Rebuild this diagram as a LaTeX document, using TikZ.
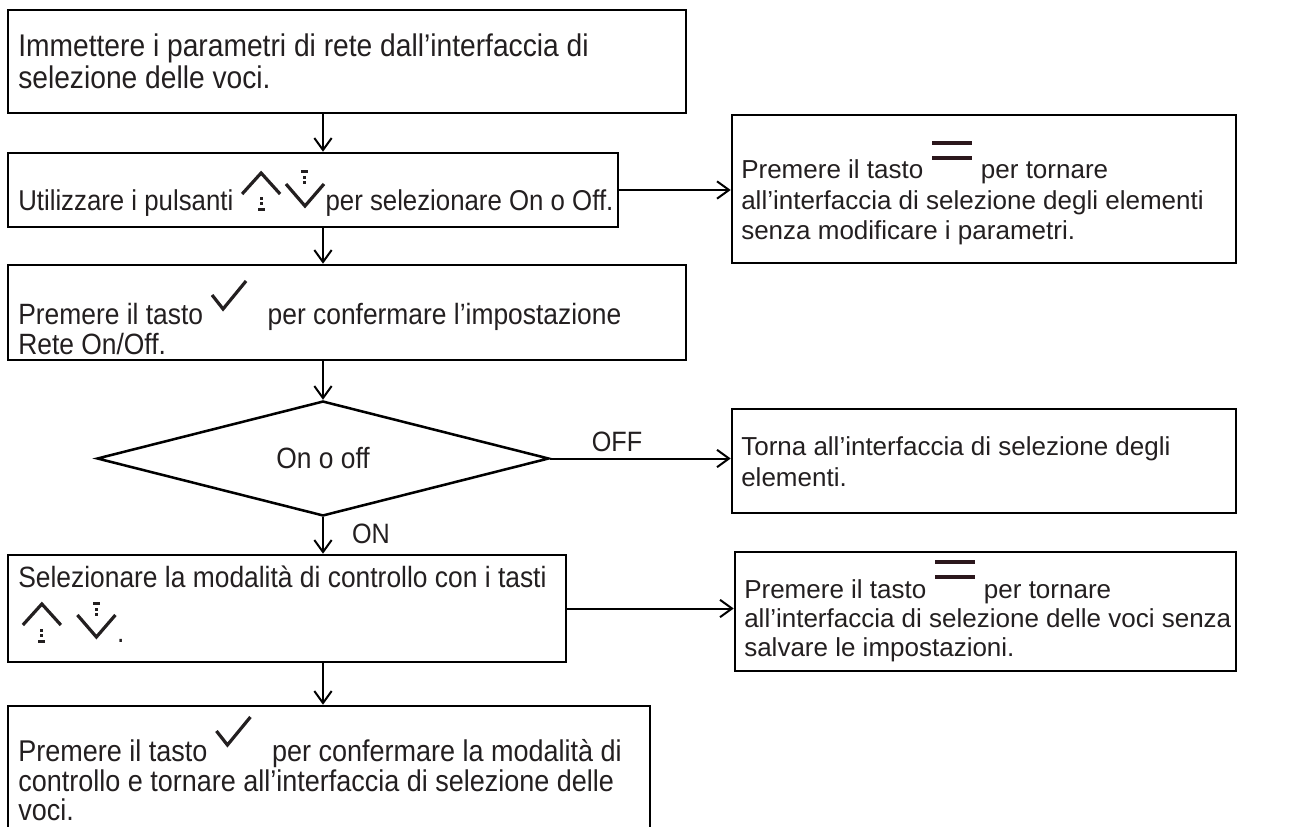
\documentclass[tikz,border=0pt]{standalone}
\usepackage{fontspec}
\setmainfont{Liberation Sans}
\newfontfamily\narrowfont[FakeStretch=0.9]{Liberation Sans}
\usetikzlibrary{arrows.meta,shapes.geometric}
\definecolor{txt}{HTML}{231F20}
\definecolor{menucol}{HTML}{2B171C}
\newcommand\upkey{\tikz[baseline=0pt,x=0.75pt,y=-0.75pt]{%
  \draw[line width=2.4pt,txt] (0,-17)--(19,-38)--(38,-17);
  \fill[txt] (17.5,-13.5) rectangle (20.5,-10.5);
  \fill[txt] (17.5,-8.5) rectangle (20.5,-5.5);
  \fill[txt] (15.5,-2.5) rectangle (22.5,0.5);}}
\newcommand\downkey{\tikz[baseline=0pt,x=0.75pt,y=-0.75pt]{%
  \draw[line width=2.4pt,txt] (0,-27)--(19,-5)--(38,-27);
  \fill[txt] (15.5,-40.5) rectangle (22.5,-37.5);
  \fill[txt] (17.5,-34.5) rectangle (20.5,-31.5);
  \fill[txt] (17.5,-29.5) rectangle (20.5,-26.5);}}
\newcommand\checkkey{\tikz[baseline=0pt,x=0.75pt,y=-0.75pt]{%
  \draw[line width=2.4pt,txt] (0,-30)--(11,-16)--(34,-44);}}
\newcommand\menukey{\tikz[baseline=0pt,x=0.75pt,y=-0.75pt]{%
  \draw[line width=2.4pt,menucol] (0,-36)--(40,-36) (0,-21)--(40,-21);}}
\tikzset{
  box/.style={draw=black,line width=1.9pt,rectangle,inner sep=0pt},
  lt/.style={anchor=base west,inner sep=0pt,text=txt,font=\narrowfont\fontsize{22pt}{23pt}\selectfont},
  rt/.style={anchor=base west,inner sep=0pt,text=txt,font=\fontsize{19.5pt}{23pt}\selectfont},
  arr/.style={draw=black,line width=1.5pt,-{Straight Barb[length=9pt,width=13pt,line width=1.5pt]}},
  lbl/.style={inner sep=0pt,text=txt,font=\narrowfont\fontsize{21pt}{23pt}\selectfont}
}
\begin{document}
\begin{tikzpicture}[x=0.75pt,y=-0.75pt]
\useasboundingbox[fill=white] (0,0) rectangle (1292,827);
\begin{scope}
\clip (0,0) rectangle (1292,827);
% boxes
\node[box,minimum width=678*0.75pt,minimum height=103*0.75pt] (b1) at (347,61.5) {};
\node[box,minimum width=610*0.75pt,minimum height=74*0.75pt] (b2) at (313,190) {};
\node[box,minimum width=504*0.75pt,minimum height=148*0.75pt] (r1) at (984,189) {};
\node[box,minimum width=678*0.75pt,minimum height=95*0.75pt] (b3) at (347,312.5) {};
\node[draw=black,line width=1.9pt,diamond,inner sep=0pt,minimum width=452*0.75pt,minimum height=113*0.75pt,
      text=txt,font=\narrowfont\fontsize{22pt}{23pt}\selectfont] (d) at (323,458.5) {On o off};
\node[box,minimum width=504*0.75pt,minimum height=104*0.75pt] (r2) at (984,461) {};
\node[box,minimum width=558*0.75pt,minimum height=107*0.75pt] (b5) at (287,608.5) {};
\node[box,minimum width=501*0.75pt,minimum height=119*0.75pt] (r3) at (985.5,611.5) {};
\node[box,minimum width=642*0.75pt,minimum height=160*0.75pt] (b6) at (329,786) {};
% texts
\node[lt,font=\narrowfont\fontsize{23.5pt}{23pt}\selectfont] (t1a) at (18,57) {Immettere i parametri di rete dall’interfaccia di};
\node[lt,font=\narrowfont\fontsize{23.5pt}{23pt}\selectfont] (t1b) at (18,89) {selezione delle voci.};
\node[lt,font=\narrowfont\fontsize{21.5pt}{23pt}\selectfont] (t2a) at (18,211) {Utilizzare i pulsanti \upkey\hspace{2pt}\downkey per selezionare On o Off.};
\node[rt] (r1a) at (741,179) {Premere il tasto \menukey{} per tornare};
\node[rt] (r1b) at (741,210) {all’interfaccia di selezione degli elementi};
\node[rt] (r1c) at (741,240) {senza modificare i parametri.};
\node[lt] (t3a) at (18,325) {Premere il tasto \checkkey\hspace{15pt}per confermare l’impostazione};
\node[lt] (t3b) at (18,354) {Rete On/Off.};
\node[rt] (r2a) at (741,455) {Torna all’interfaccia di selezione degli};
\node[rt] (r2b) at (741,486) {elementi.};
\node[lt] (t5a) at (18,587) {Selezionare la modalità di controllo con i tasti};
\node[lt] (t5b) at (21,642) {\upkey\hspace{10pt}\downkey.};
\node[rt] (r3a) at (744,598) {Premere il tasto \menukey{} per tornare};
\node[rt] (r3b) at (744,627) {all’interfaccia di selezione delle voci senza};
\node[rt] (r3c) at (744,656) {salvare le impostazioni.};
\node[lt,font=\narrowfont\fontsize{22.5pt}{23pt}\selectfont] (t6a) at (18,761) {Premere il tasto \checkkey\hspace{15pt}per confermare la modalità di};
\node[lt,font=\narrowfont\fontsize{22.5pt}{23pt}\selectfont] (t6b) at (18,791) {controllo e tornare all’interfaccia di selezione delle};
\node[lt,font=\narrowfont\fontsize{22.5pt}{23pt}\selectfont] (t6c) at (18,820) {voci.};
% connectors
\draw[arr] (b1.south -| d.north) -- (b2.north -| d.north);
\draw[arr] (b2.south -| d.north) -- (b3.north -| d.north);
\draw[arr] (b3.south -| d.north) -- (d.north);
\draw[arr] (d.south) -- (b5.north -| d.south) node[lbl,pos=0.45,anchor=west,xshift=21pt] (on) {ON};
\draw[arr] (b5.south -| d.north) -- (b6.north -| d.north);
\draw[arr] (b2.east) -- (b2.east -| r1.west);
\draw[arr] (d.east) -- (d.east -| r2.west) node[lbl,pos=0.37,anchor=south,yshift=4pt] (off) {OFF};
\draw[arr] (b5.east) -- (b5.east -| r3.west);
\end{scope}
\end{tikzpicture}
\end{document}
